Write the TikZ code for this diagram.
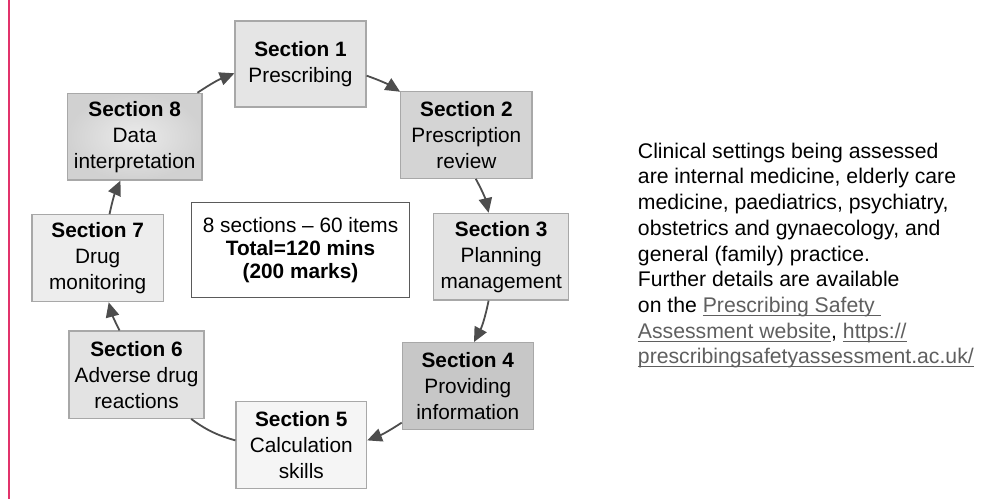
\documentclass[tikz,border=0pt]{standalone}
\usepackage{fontspec}
\setmainfont{Liberation Sans}
\usetikzlibrary{arrows.meta}
\definecolor{pinkline}{HTML}{E2336B}
\definecolor{boxborder}{HTML}{A8A8A8}
\definecolor{arrowc}{HTML}{4D4D4D}
\definecolor{linkc}{HTML}{5F5F5F}
\definecolor{centerborder}{HTML}{5A5A5A}
\newlength\lnkw
\newcommand\lnk[1]{\settowidth\lnkw{#1}\rlap{\color{linkc}\rule[-2.6pt]{\lnkw}{0.75pt}}{\color{linkc}#1}}
\begin{document}
\begin{tikzpicture}[x=0.75pt,y=-0.75pt,
 secbox/.style={draw=boxborder,line width=0.9pt,align=center,inner sep=0pt,font=\fontsize{15.6pt}{19.5pt}\selectfont},
 conn/.style={draw=arrowc,line width=1.35pt,-{Triangle[length=11pt,width=10pt]}},
 plainconn/.style={draw=arrowc,line width=1.35pt},
 rtext/.style={anchor=base west,inner sep=0pt,font=\fontsize{15.9pt}{19pt}\selectfont}]
\useasboundingbox (0,0) rectangle (1003,499);
\fill[white] (0,0) rectangle (1003,499);
\draw[pinkline,line width=1.1pt] (9,0) -- (9,499);

\node[secbox,fill=black!10,minimum width=98.25pt,minimum height=64.5pt] (s1) at (300.5,64) {\textbf{Section 1}\\Prescribing};
\node[secbox,fill=black!17,minimum width=98.5pt,minimum height=65.25pt] (s2) at (466.4,134.8) {\textbf{Section 2}\\Prescription\\review};
\node[secbox,fill=black!11,minimum width=101.25pt,minimum height=65pt] (s3) at (501.2,256.7) {\textbf{Section 3}\\Planning\\management};
\node[secbox,fill=black!22,minimum width=98.25pt,minimum height=65pt] (s4) at (467.8,386) {\textbf{Section 4}\\Providing\\information};
\node[secbox,fill=black!4,minimum width=98pt,minimum height=65pt] (s5) at (301.3,445) {\textbf{Section 5}\\Calculation\\skills};
\node[secbox,fill=black!11,minimum width=101.25pt,minimum height=65.5pt] (s6) at (136.5,374.7) {\textbf{Section 6}\\Adverse drug\\reactions};
\node[secbox,fill=black!7,minimum width=98.5pt,minimum height=65.25pt] (s7) at (97.7,258.2) {\textbf{Section 7}\\Drug\\monitoring};
\node[secbox,inner color=black!8,outer color=black!18,minimum width=101pt,minimum height=65pt] (s8) at (134.7,136.7) {\textbf{Section 8}\\Data\\interpretation};

\node[draw=centerborder,line width=1.1pt,fill=white,align=center,inner sep=0pt,minimum width=163.2pt,minimum height=71.25pt,font=\fontsize{15.6pt}{17.3pt}\selectfont] (mid) at (300.5,249.8) {8 sections – 60 items\\\textbf{Total=120 mins}\\\textbf{(200 marks)}};

\draw[conn] (s8.35) to[bend left=6] (s1.188);
\draw[conn] (s1.-10) to[bend left=6] (s2.147);
\draw[conn] (s2.-78) to[bend left=8] (s3.106);
\draw[conn] (s3.-106) to[bend left=8] (s4.82);
\draw[conn] (s4.209) to[bend left=6] (s5.4);
\draw[plainconn] (s5.176) to[bend left=10] (s6.-39);
\draw[conn] (s6.111) to[bend left=6] (s7.-76);
\draw[conn] (s7.75) to[bend left=6] (s8.-108);

\node[rtext] (r1) at (637.7,158.3) {Clinical settings being assessed};
\node[rtext] (r2) at (637.7,184.0) {are internal medicine, elderly care};
\node[rtext] (r3) at (637.7,209.7) {medicine, paediatrics, psychiatry,};
\node[rtext] (r4) at (637.7,235.4) {obstetrics and gynaecology, and};
\node[rtext] (r5) at (637.7,261.1) {general (family) practice.};
\node[rtext] (r6) at (637.7,286.8) {Further details are available};
\node[rtext] (r7) at (637.7,312.5) {on the \lnk{Prescribing Safety\ }};
\node[rtext] (r8) at (637.7,338.2) {\lnk{Assessment website}, \lnk{https://}};
\node[rtext] (r9) at (637.7,363.9) {\lnk{prescribingsafetyassessment.ac.uk/}};
\end{tikzpicture}
\end{document}
